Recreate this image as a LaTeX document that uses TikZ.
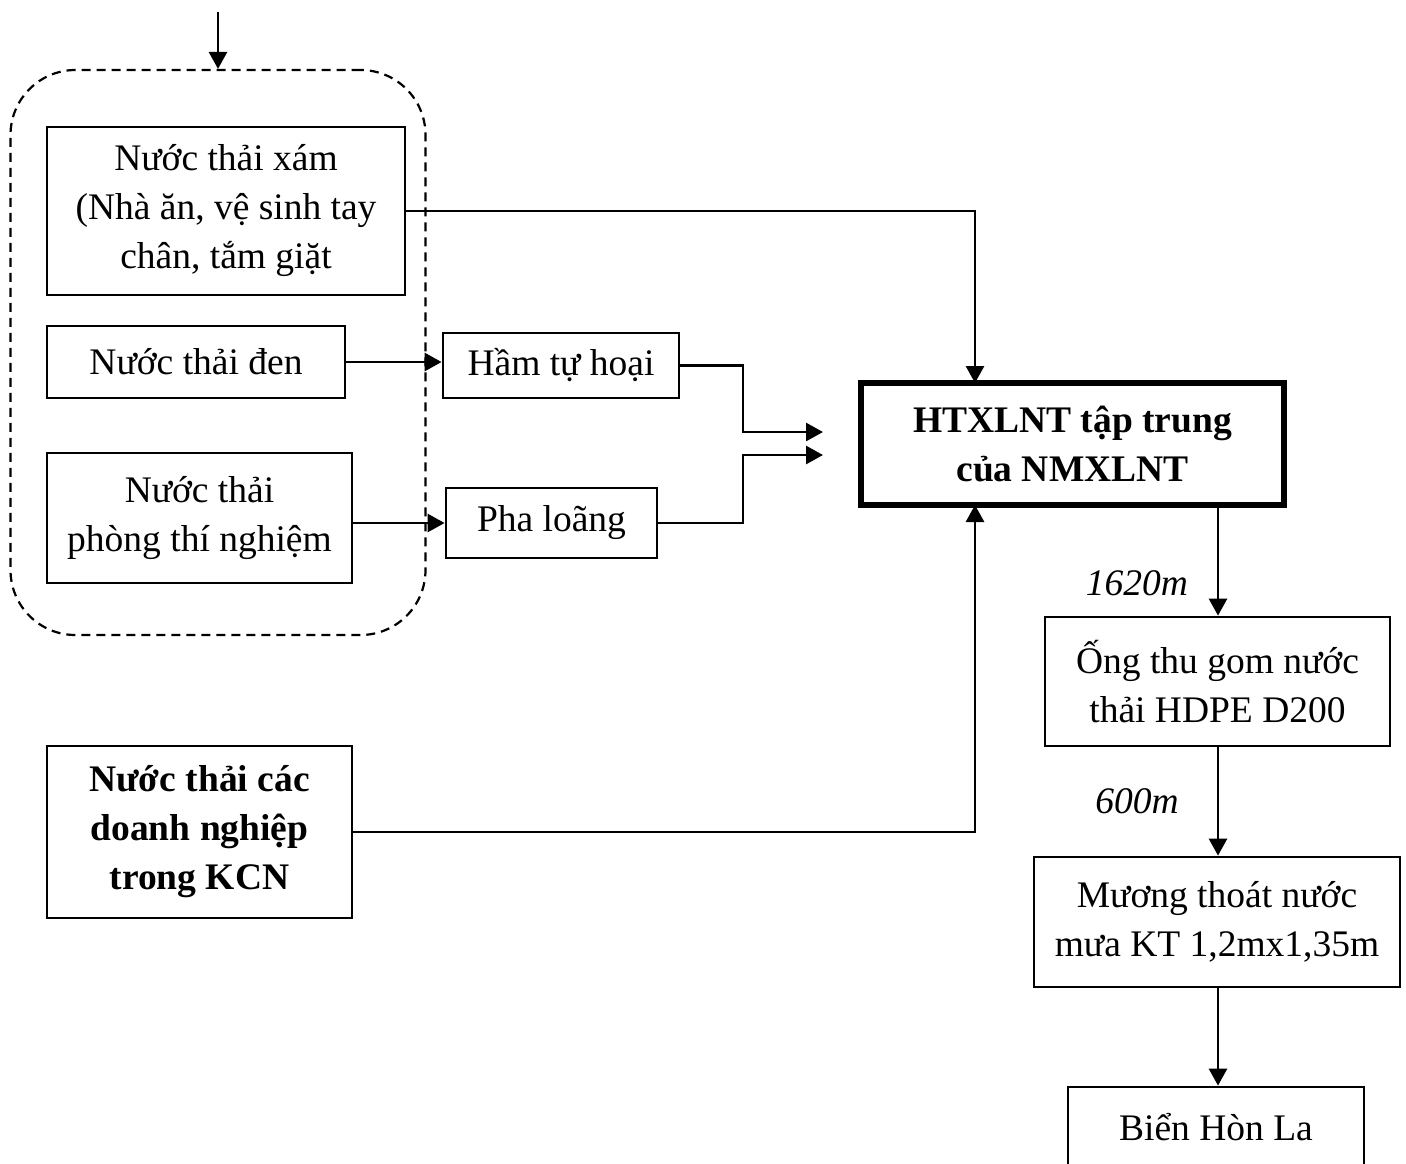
\documentclass[tikz,border=0pt]{standalone}
\usepackage{fontspec}
\setmainfont{Liberation Serif}
\usetikzlibrary{arrows.meta}
\begin{document}
\begin{tikzpicture}[x=1pt,y=-1pt,
  every node/.style={font=\fontsize{37.5pt}{49pt}\selectfont},
  box/.style={draw, line width=2.8pt, align=center, inner sep=0pt},
  thickbox/.style={draw, line width=5.5pt, align=center, inner sep=0pt, font=\fontsize{37.5pt}{49pt}\selectfont\bfseries},
  grpbox/.style={draw, dash pattern=on 9pt off 6pt, line width=2.2pt, rounded corners=65pt, inner sep=0pt},
  arr/.style={line width=2.8pt, -{Triangle[length=17pt,width=18pt]}},
  lbl/.style={font=\fontsize{37.5pt}{49pt}\selectfont\itshape, inner sep=0pt}
]
\useasboundingbox (0,0) rectangle (1406,1163);
\clip (0,0) rectangle (1406,1163);

\node[grpbox, minimum width=415pt, minimum height=565pt] (grp) at (218,352.5) {};
\coordinate (topin) at (218,12);

\node[box, minimum width=358pt, minimum height=168pt] (grey) at (226,211) {Nước thải xám\\(Nhà ăn, vệ sinh tay\\chân, tắm giặt};
\node[box, minimum width=298pt, minimum height=72pt] (black) at (196,362) {Nước thải đen};
\node[box, minimum width=305pt, minimum height=130pt] (lab) at (199.5,518) {Nước thải\\phòng thí nghiệm};
\node[box, minimum width=236pt, minimum height=65pt] (ham) at (561,365.5) {Hầm tự hoại};
\node[box, minimum width=211pt, minimum height=70pt] (pha) at (551.5,523) {Pha loãng};
\node[thickbox, minimum width=423pt, minimum height=122pt] (ht) at (1072.5,444) {HTXLNT tập trung\\của NMXLNT};
\node[box, minimum width=305pt, minimum height=172pt, font=\fontsize{37.5pt}{49pt}\selectfont\bfseries] (kcn) at (199.5,832) {Nước thải các\\doanh nghiệp\\trong KCN};
\node[box, minimum width=345pt, minimum height=129pt] (ong) at (1217.5,681.5) {Ống thu gom nước\\thải HDPE D200};
\node[box, minimum width=366pt, minimum height=130pt] (muong) at (1217,922) {Mương thoát nước\\mưa KT 1,2mx1,35m};
\node[box, minimum width=296pt, minimum height=80pt] (bien) at (1216,1127) {Biển Hòn La};

\node[lbl] (l1) at (1137,583) {1620m};
\node[lbl] (l2) at (1137,801) {600m};

\coordinate (e1) at (823,432);
\coordinate (e2) at (823,455);

\draw[arr] (topin) -- (grp.north);
\draw[arr] (grey.east) -- (975,211) -- (975,383);
\draw[arr] (black.east) -- (black.east -| ham.west);
\draw[arr] (lab.east |- pha.west) -- (pha.west);
\draw[arr] (ham.east) -- (743,365.5) -- (743,432) -- (e1);
\draw[arr] (pha.east) -- (743,523) -- (743,455) -- (e2);
\draw[arr] (kcn.east) -- (975,832) -- (975,505);
\draw[arr] (1218,505) -- (ong.north -| 1218,0);
\draw[arr] (ong.south -| 1218,0) -- (muong.north -| 1218,0);
\draw[arr] (muong.south -| 1218,0) -- (bien.north -| 1218,0);
\end{tikzpicture}
\end{document}
